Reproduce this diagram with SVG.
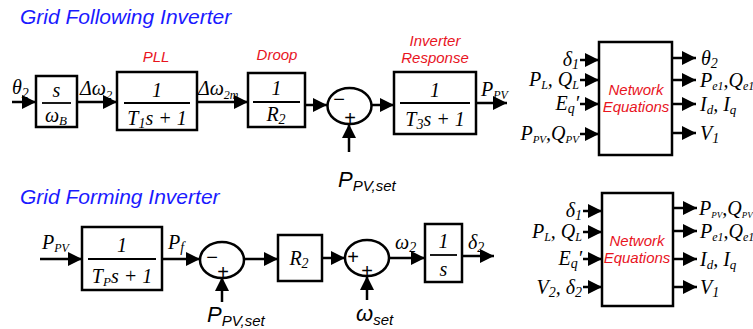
<svg xmlns="http://www.w3.org/2000/svg" width="753" height="329" viewBox="0 0 753 329">
<defs>
<marker id="ah" markerUnits="userSpaceOnUse" markerWidth="16" markerHeight="14" refX="14" refY="7" orient="auto">
<path d="M0,0 L14,7 L0,14 Z" fill="#000"/>
</marker>
<style>
.b{fill:#fff;stroke:#000;stroke-width:2.5}
.c{stroke:#000;stroke-width:2.5;fill:none}
.ln{stroke:#000;stroke-width:1.8}
.m{font-family:"Liberation Serif",serif;font-style:italic;font-size:20px;fill:#000}
.t{font-family:"Liberation Sans",Arial,sans-serif;font-style:italic;font-size:21px;fill:#1a1aff}
.r{font-family:"Liberation Sans",Arial,sans-serif;font-style:italic;font-size:15px;fill:#e8141e}
.s{font-family:"Liberation Sans",Arial,sans-serif;font-style:italic;font-size:22px;fill:#000}
.sg{font-family:"Liberation Sans",Arial,sans-serif;font-size:20px;fill:#000}
.ar{stroke:#000;stroke-width:2.5;fill:none;marker-end:url(#ah)}
</style>
</defs>
<rect width="753" height="329" fill="#fff"/>
<text class="t" x="20" y="24">Grid Following Inverter</text>
<text class="t" x="20" y="204">Grid Forming Inverter</text>

<g id="connectors">
<line class="ar" x1="12" y1="102" x2="36" y2="102"/>
<line class="ar" x1="77" y1="102" x2="117" y2="102"/>
<line class="ar" x1="197" y1="102" x2="248" y2="102"/>
<line class="ar" x1="305" y1="105" x2="327" y2="105"/>
<line class="ar" x1="372" y1="105" x2="394" y2="105"/>
<line class="ar" x1="476" y1="103" x2="507" y2="103"/>
<line class="ar" x1="349" y1="152" x2="349" y2="124"/>
<line class="ar" x1="580" y1="60" x2="599" y2="60"/>
<line class="ar" x1="580" y1="80" x2="599" y2="80"/>
<line class="ar" x1="580" y1="104" x2="599" y2="104"/>
<line class="ar" x1="580" y1="134" x2="599" y2="134"/>
<line class="ar" x1="672" y1="58" x2="696" y2="58"/>
<line class="ar" x1="672" y1="80" x2="696" y2="80"/>
<line class="ar" x1="672" y1="104" x2="696" y2="104"/>
<line class="ar" x1="672" y1="133" x2="696" y2="133"/>
<line class="ar" x1="40" y1="259" x2="82" y2="259"/>
<line class="ar" x1="162" y1="259" x2="200" y2="259"/>
<line class="ar" x1="244" y1="259" x2="278" y2="259"/>
<line class="ar" x1="322" y1="258" x2="345" y2="258"/>
<line class="ar" x1="389" y1="258" x2="425" y2="258"/>
<line class="ar" x1="462" y1="256" x2="494" y2="256"/>
<line class="ar" x1="222" y1="302" x2="222" y2="277"/>
<line class="ar" x1="367" y1="300" x2="367" y2="276"/>
<line class="ar" x1="583" y1="211" x2="602" y2="211"/>
<line class="ar" x1="583" y1="232" x2="602" y2="232"/>
<line class="ar" x1="583" y1="259" x2="602" y2="259"/>
<line class="ar" x1="583" y1="287" x2="602" y2="287"/>
<line class="ar" x1="673" y1="208" x2="697" y2="208"/>
<line class="ar" x1="673" y1="231" x2="697" y2="231"/>
<line class="ar" x1="673" y1="259" x2="697" y2="259"/>
<line class="ar" x1="673" y1="287" x2="697" y2="287"/>
</g>

<text class="m" x="12" y="94">θ<tspan font-size="14" dy="4">2</tspan></text>
<text class="m" x="80" y="95">Δω<tspan font-size="13" dy="4">2</tspan></text>
<text class="m" x="198" y="95">Δω<tspan font-size="12" dy="4">2m</tspan></text>
<text class="m" x="481" y="96">P<tspan font-size="12" dy="3">PV</tspan></text>
<text class="s" x="338" y="187">P<tspan font-size="15" dy="4">PV,set</tspan></text>

<g id="diff">
<rect class="b" x="36" y="76" width="41" height="51"/>
<text class="m" x="56.5" y="97" text-anchor="middle">s</text>
<line class="ln" x1="42" y1="103" x2="71" y2="103"/>
<text class="m" x="56" y="122" text-anchor="middle">ω<tspan font-size="13" dy="3">B</tspan></text>
</g>

<g id="pll">
<text class="r" x="156" y="62" text-anchor="middle">PLL</text>
<rect class="b" x="117" y="72" width="80" height="58"/>
<text class="m" x="157" y="97" text-anchor="middle">1</text>
<line class="ln" x1="124" y1="103" x2="190" y2="103"/>
<text class="m" x="157" y="125" text-anchor="middle">T<tspan font-size="14" dy="3">1</tspan><tspan dy="-3">s + 1</tspan></text>
</g>

<g id="droop">
<text class="r" x="277" y="60" text-anchor="middle">Droop</text>
<rect class="b" x="248" y="73" width="57" height="54"/>
<text class="m" x="276.5" y="95" text-anchor="middle">1</text>
<line class="ln" x1="253" y1="102" x2="300" y2="102"/>
<text class="m" x="276" y="121" text-anchor="middle">R<tspan font-size="14" dy="3">2</tspan></text>
</g>

<g id="sum1">
<ellipse class="c" cx="349.5" cy="106" rx="22" ry="18"/>
<text class="sg" x="339" y="106" text-anchor="middle">−</text>
<text class="sg" x="350" y="125" text-anchor="middle">+</text>
</g>

<g id="inverter">
<text class="r" x="435" y="46" text-anchor="middle">Inverter</text>
<text class="r" x="435" y="63" text-anchor="middle">Response</text>
<rect class="b" x="394" y="72" width="82" height="62"/>
<text class="m" x="435" y="97" text-anchor="middle">1</text>
<line class="ln" x1="400" y1="103" x2="470" y2="103"/>
<text class="m" x="435" y="126" text-anchor="middle">T<tspan font-size="14" dy="3">3</tspan><tspan dy="-3">s + 1</tspan></text>
</g>

<g id="network1">
<rect class="b" x="599" y="42" width="73" height="113"/>
<text class="r" x="636" y="95" text-anchor="middle">Network</text>
<text class="r" x="636" y="112" text-anchor="middle">Equations</text>
<text class="m" x="579" y="66" text-anchor="end">δ<tspan font-size="14" dy="3">1</tspan></text>
<text class="m" x="579" y="86" text-anchor="end">P<tspan font-size="12" dy="3">L</tspan><tspan dy="-3">, Q</tspan><tspan font-size="12" dy="3">L</tspan></text>
<text class="m" x="579" y="110" text-anchor="end">E<tspan font-size="14" dy="3">q</tspan><tspan dy="-3">′</tspan></text>
<text class="m" x="579" y="140" text-anchor="end">P<tspan font-size="11" dy="3">PV</tspan><tspan dy="-3">,Q</tspan><tspan font-size="11" dy="3">PV</tspan></text>
<text class="m" x="701" y="65">θ<tspan font-size="14" dy="3">2</tspan></text>
<text class="m" x="700" y="87">P<tspan font-size="12" dy="3">e1</tspan><tspan dy="-3">,Q</tspan><tspan font-size="12" dy="3">e1</tspan></text>
<text class="m" x="700" y="111">I<tspan font-size="13" dy="3">d</tspan><tspan dy="-3">, I</tspan><tspan font-size="13" dy="3">q</tspan></text>
<text class="m" x="700" y="140">V<tspan font-size="14" dy="3">1</tspan></text>
</g>

<text class="m" x="42" y="249">P<tspan font-size="12" dy="3">PV</tspan></text>
<text class="m" x="168" y="249">P<tspan font-size="14" dy="3">f</tspan></text>
<text class="m" x="395" y="249">ω<tspan font-size="14" dy="3">2</tspan></text>
<text class="m" x="468" y="249">δ<tspan font-size="14" dy="3">2</tspan></text>
<text class="s" x="207" y="322">P<tspan font-size="15" dy="4">PV,set</tspan></text>
<text class="s" x="356" y="321">ω<tspan font-size="15" dy="4">set</tspan></text>

<g id="filter">
<rect class="b" x="82" y="227" width="80" height="63"/>
<text class="m" x="122" y="252" text-anchor="middle">1</text>
<line class="ln" x1="88" y1="259" x2="156" y2="259"/>
<text class="m" x="122" y="283" text-anchor="middle">T<tspan font-size="13" dy="3">P</tspan><tspan dy="-3">s + 1</tspan></text>
</g>

<g id="sum2">
<ellipse class="c" cx="222" cy="260" rx="22" ry="18"/>
<text class="sg" x="212" y="264" text-anchor="middle">−</text>
<text class="sg" x="223" y="279" text-anchor="middle">+</text>
</g>

<g id="gain">
<rect class="b" x="278" y="235" width="44" height="46"/>
<text class="m" x="299" y="265" text-anchor="middle">R<tspan font-size="14" dy="3">2</tspan></text>
</g>

<g id="sum3">
<ellipse class="c" cx="367" cy="258" rx="22" ry="18"/>
<text class="sg" x="353" y="264" text-anchor="middle">+</text>
<text class="sg" x="367" y="278" text-anchor="middle">+</text>
</g>

<g id="integrator">
<rect class="b" x="425" y="224" width="37" height="58"/>
<text class="m" x="443.5" y="248" text-anchor="middle">1</text>
<line class="ln" x1="430" y1="255" x2="457" y2="255"/>
<text class="m" x="443.5" y="276" text-anchor="middle">s</text>
</g>

<g id="network2">
<rect class="b" x="602" y="193" width="71" height="113"/>
<text class="r" x="637" y="246" text-anchor="middle">Network</text>
<text class="r" x="637" y="263" text-anchor="middle">Equations</text>
<text class="m" x="582" y="217" text-anchor="end">δ<tspan font-size="14" dy="3">1</tspan></text>
<text class="m" x="582" y="238" text-anchor="end">P<tspan font-size="12" dy="3">L</tspan><tspan dy="-3">, Q</tspan><tspan font-size="12" dy="3">L</tspan></text>
<text class="m" x="582" y="265" text-anchor="end">E<tspan font-size="14" dy="3">q</tspan><tspan dy="-3">′</tspan></text>
<text class="m" x="582" y="294" text-anchor="end">V<tspan font-size="14" dy="3">2</tspan><tspan dy="-3">, δ</tspan><tspan font-size="14" dy="3">2</tspan></text>
<text class="m" x="699" y="215" font-size="17">P<tspan font-size="9" dy="3">PV</tspan><tspan dy="-3">,Q</tspan><tspan font-size="9" dy="3">PV</tspan></text>
<text class="m" x="700" y="238">P<tspan font-size="12" dy="3">e1</tspan><tspan dy="-3">,Q</tspan><tspan font-size="12" dy="3">e1</tspan></text>
<text class="m" x="700" y="266">I<tspan font-size="13" dy="3">d</tspan><tspan dy="-3">, I</tspan><tspan font-size="13" dy="3">q</tspan></text>
<text class="m" x="700" y="294">V<tspan font-size="14" dy="3">1</tspan></text>
</g>
</svg>
